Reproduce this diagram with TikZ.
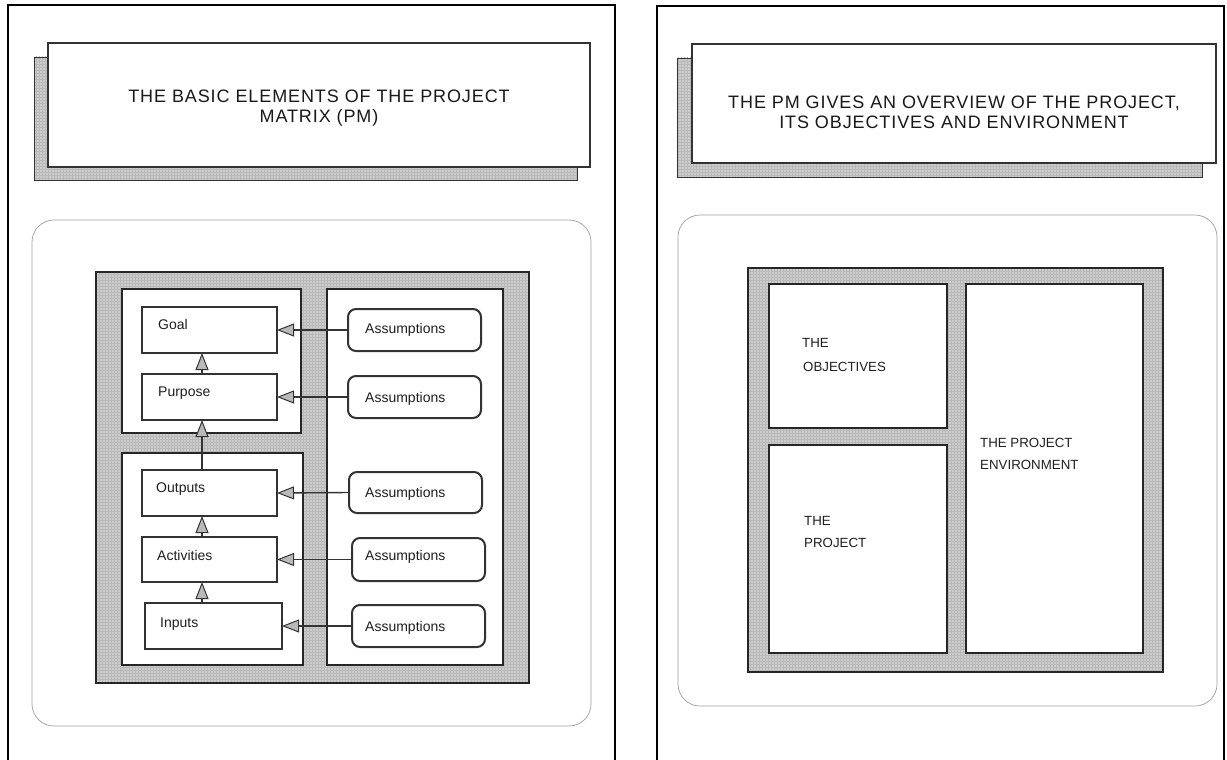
\documentclass[tikz,border=0pt]{standalone}
\usepackage{fontspec}
\setmainfont{Liberation Sans}
\usetikzlibrary{arrows.meta,patterns}
\definecolor{ink}{gray}{0.2}
\definecolor{meshbg}{gray}{0.80}
\newcommand\bx[6]{\node[#1, anchor=north west, minimum width={#4-#2}, minimum height={#5-#3}] (#6) at (#2,#3) {};}
\begin{document}
\begin{tikzpicture}[x=1pt,y=-1pt,
  frameline/.style={draw=black,line width=2pt},
  shadowbox/.style={draw=ink,line width=0.9pt,preaction={fill=meshbg},pattern=grid,pattern color=gray!55,inner sep=0pt,outer sep=0pt},
  titlebox/.style={draw=ink,line width=1.2pt,fill=white,inner sep=0pt,outer sep=0pt},
  titletext/.style={align=center,text=black!90,font=\fontsize{18}{20}\selectfont\addfontfeature{LetterSpace=5}},
  roundbox/.style={draw=gray!75,line width=0.7pt,rounded corners=22pt,inner sep=0pt,outer sep=0pt},
  meshbox/.style={draw=black!85,line width=1.5pt,preaction={fill=meshbg},pattern=grid,pattern color=gray!55,inner sep=0pt,outer sep=0pt},
  colbox/.style={draw=black!85,line width=1.5pt,fill=white,inner sep=0pt,outer sep=0pt},
  elembox/.style={draw=ink,line width=2pt,fill=white,inner sep=0pt,outer sep=0pt},
  assumbox/.style={draw=ink,line width=2pt,fill=white,rounded corners=8pt,inner sep=0pt,outer sep=0pt},
  elemtext/.style={anchor=base west,inner sep=0pt,font=\fontsize{14}{16}\selectfont,text=black!88},
  pmtext/.style={anchor=base west,inner sep=0pt,font=\fontsize{13.3}{15}\selectfont,text=black!88},
  arr/.style={draw=ink,line width=1.4pt,-{Triangle[length=17pt,width=13pt,fill=gray!55,line width=1pt]}}
]
\useasboundingbox (0,0) rectangle (1227,760);
\fill[white] (0,0) rectangle (1227,760);

% ---------------- left panel ----------------
\coordinate (lf1) at (8,775);
\coordinate (lf2) at (8,5);
\coordinate (lf3) at (615,5);
\coordinate (lf4) at (615,775);
\draw[frameline] (lf1) -- (lf2) -- (lf3) -- (lf4);

\bx{shadowbox}{34}{57}{577}{180}{lshadow}
\bx{titlebox}{48}{43}{590}{167}{ltitle}
\node[titletext] (ltitletext) at (319,108) {THE BASIC ELEMENTS OF THE PROJECT\\MATRIX (PM)};

\bx{roundbox}{32}{220}{591}{726}{lround}
\bx{meshbox}{96}{272}{529}{683}{lmesh}
\bx{colbox}{122}{289}{301}{433}{colobj}
\bx{colbox}{122}{453}{303}{665}{colproj}
\bx{colbox}{327}{289}{503}{665}{colenv}

\bx{elembox}{142}{307}{277}{353}{goal}
\bx{elembox}{142}{374}{277}{420}{purpose}
\bx{elembox}{142}{470}{277}{516}{outputs}
\bx{elembox}{142}{537}{277}{582}{activities}
\bx{elembox}{145}{603}{282}{649}{inputs}

\node[elemtext] (goaltext) at ([xshift=16pt,yshift=1pt]goal.west) {Goal};
\node[elemtext] (purposetext) at ([xshift=16pt,yshift=1pt]purpose.west) {Purpose};
\node[elemtext] (outputstext) at ([xshift=14pt,yshift=1pt]outputs.west) {Outputs};
\node[elemtext] (activitiestext) at ([xshift=15pt,yshift=-1pt]activities.west) {Activities};
\node[elemtext] (inputstext) at ([xshift=15pt,yshift=-1pt]inputs.west) {Inputs};

\bx{assumbox}{348}{309}{481}{351}{as1}
\bx{assumbox}{348}{376}{481}{418}{as2}
\bx{assumbox}{349}{472}{482}{513}{as3}
\bx{assumbox}{352}{538}{485}{581}{as4}
\bx{assumbox}{352}{605}{485}{647}{as5}

\node[elemtext] (as1text) at ([xshift=17pt,yshift=-3pt]as1.west) {Assumptions};
\node[elemtext] (as2text) at ([xshift=17pt,yshift=-5pt]as2.west) {Assumptions};
\node[elemtext] (as3text) at ([xshift=16pt,yshift=-5pt]as3.west) {Assumptions};
\node[elemtext] (as4text) at ([xshift=13pt,yshift=-1pt]as4.west) {Assumptions};
\node[elemtext] (as5text) at ([xshift=13pt,yshift=-5pt]as5.west) {Assumptions};

\draw[arr] (as1.west) -- (goal.east);
\draw[arr] (as2.west) -- (purpose.east);
\draw[arr] (as3.west) -- (outputs.east);
\draw[arr] (as4.west) -- (activities.east);
\draw[arr] (as5.west) -- (inputs.east);

\coordinate (vx) at (202,0);
\draw[arr] (vx |- purpose.north) -- (vx |- goal.south);
\draw[arr] (vx |- outputs.north) -- (vx |- purpose.south);
\draw[arr] (vx |- activities.north) -- (vx |- outputs.south);
\draw[arr] (vx |- inputs.north) -- (vx |- activities.south);

% ---------------- right panel ----------------
\coordinate (rf1) at (657,775);
\coordinate (rf2) at (657,6);
\coordinate (rf3) at (1224,6);
\coordinate (rf4) at (1224,775);
\draw[frameline] (rf1) -- (rf2) -- (rf3) -- (rf4);

\bx{shadowbox}{677}{58}{1202}{177}{rshadow}
\bx{titlebox}{692}{44}{1216}{163}{rtitle}
\node[titletext] (rtitletext) at (954,112) {THE PM GIVES AN OVERVIEW OF THE PROJECT,\\ITS OBJECTIVES AND ENVIRONMENT};

\bx{roundbox}{678}{215}{1217}{706}{rround}
\bx{meshbox}{748}{268}{1163}{672}{rmesh}
\bx{colbox}{769}{284}{947}{428}{objbox}
\bx{colbox}{769}{445}{947}{653}{projbox}
\bx{colbox}{966}{284}{1143}{653}{envbox}

\node[pmtext] (objt1) at (802,347) {THE};
\node[pmtext] (objt2) at (803,371) {OBJECTIVES};
\node[pmtext] (projt1) at (804,525) {THE};
\node[pmtext] (projt2) at (804,547) {PROJECT};
\node[pmtext] (envt1) at (980,447) {THE PROJECT};
\node[pmtext] (envt2) at (980,469) {ENVIRONMENT};
\end{tikzpicture}
\end{document}
